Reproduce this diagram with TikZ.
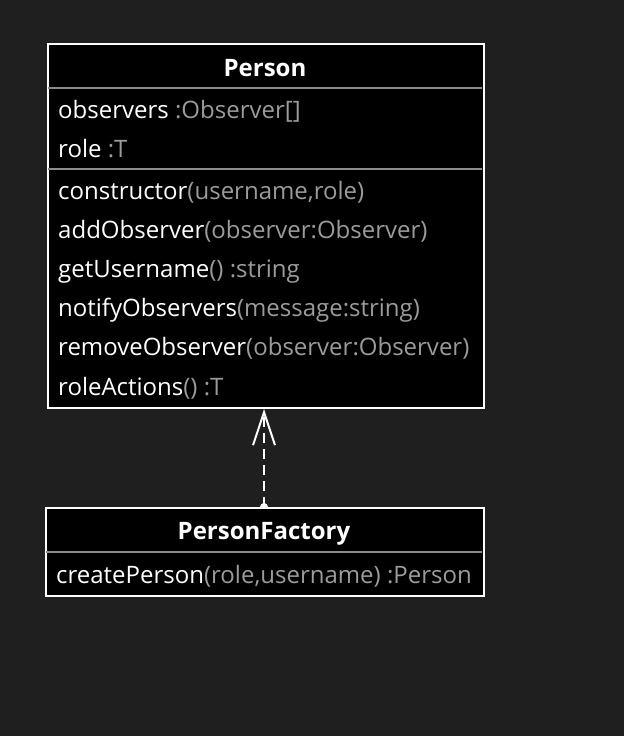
\documentclass[tikz,border=0pt]{standalone}
\usepackage{fontspec}
\setmainfont{Open Sans}
\usetikzlibrary{positioning,arrows.meta}
\definecolor{bg}{RGB}{31,31,31}
\definecolor{typgray}{RGB}{155,155,155}
\definecolor{rulegray}{RGB}{140,140,140}
\newcommand\ty[1]{\textcolor{typgray}{#1}}
\tikzset{
  classbox/.style={draw=white, line width=2pt, fill=black, inner sep=0pt, anchor=north west},
  member/.style={text=white, inner sep=0pt, anchor=base west, font=\fontsize{24}{28}\selectfont},
  classname/.style={member, anchor=base, font=\fontsize{24}{28}\selectfont\bfseries},
  divider/.style={draw=rulegray, line width=2pt},
}
\begin{document}
\begin{tikzpicture}[x=1pt,y=-1pt]
            \fill[bg] (0,0) rectangle (624,736);
            \useasboundingbox (0,0) rectangle (624,736);
            % Person
            \node[classbox, minimum width=436pt, minimum height=364pt] (person) at (47,43) {};
            \draw[divider] (48,88) -- (482,88);
            \draw[divider] (48,169) -- (482,169);
            \node[classname] (pname) at (265,76) {Person};
            \node[member] (a1) at (58,118) {observers \ty{:Observer[]}};
            \node[member] (a2) at (58,157) {role \ty{:T}};
            \foreach \m [count=\i from 0] in {{constructor\ty{(username,role)}},
                {addObserver\ty{(observer:Observer)}},
                {getUsername\ty{() :string}},
                {notifyObservers\ty{(message:string)}},
                {removeObserver\ty{(observer:Observer)}},
                {roleActions\ty{() :T}}}
                \node[member] (m\i) at (58,199+39.2*\i) {\m};
            % PersonFactory
            \fill[white] (264,507) ++(-4,0) arc[start angle=180, end angle=360, radius=4];
            \node[classbox, minimum width=438pt, minimum height=88pt] (factory) at (45,507) {};
            \draw[divider] (46,552) -- (482,552);
            \node[classname] (fname) at (264,539) {PersonFactory};
            \node[member] (f1) at (56,583) {createPerson\ty{(role,username) :Person}};
            \draw[white, line width=2pt, dash pattern=on 10pt off 6pt,
                -{Straight Barb[length=33pt,width=22pt]}] (factory.north -| 264,0) -- (person.south -| 264,0);
        \end{tikzpicture}
\end{document}
